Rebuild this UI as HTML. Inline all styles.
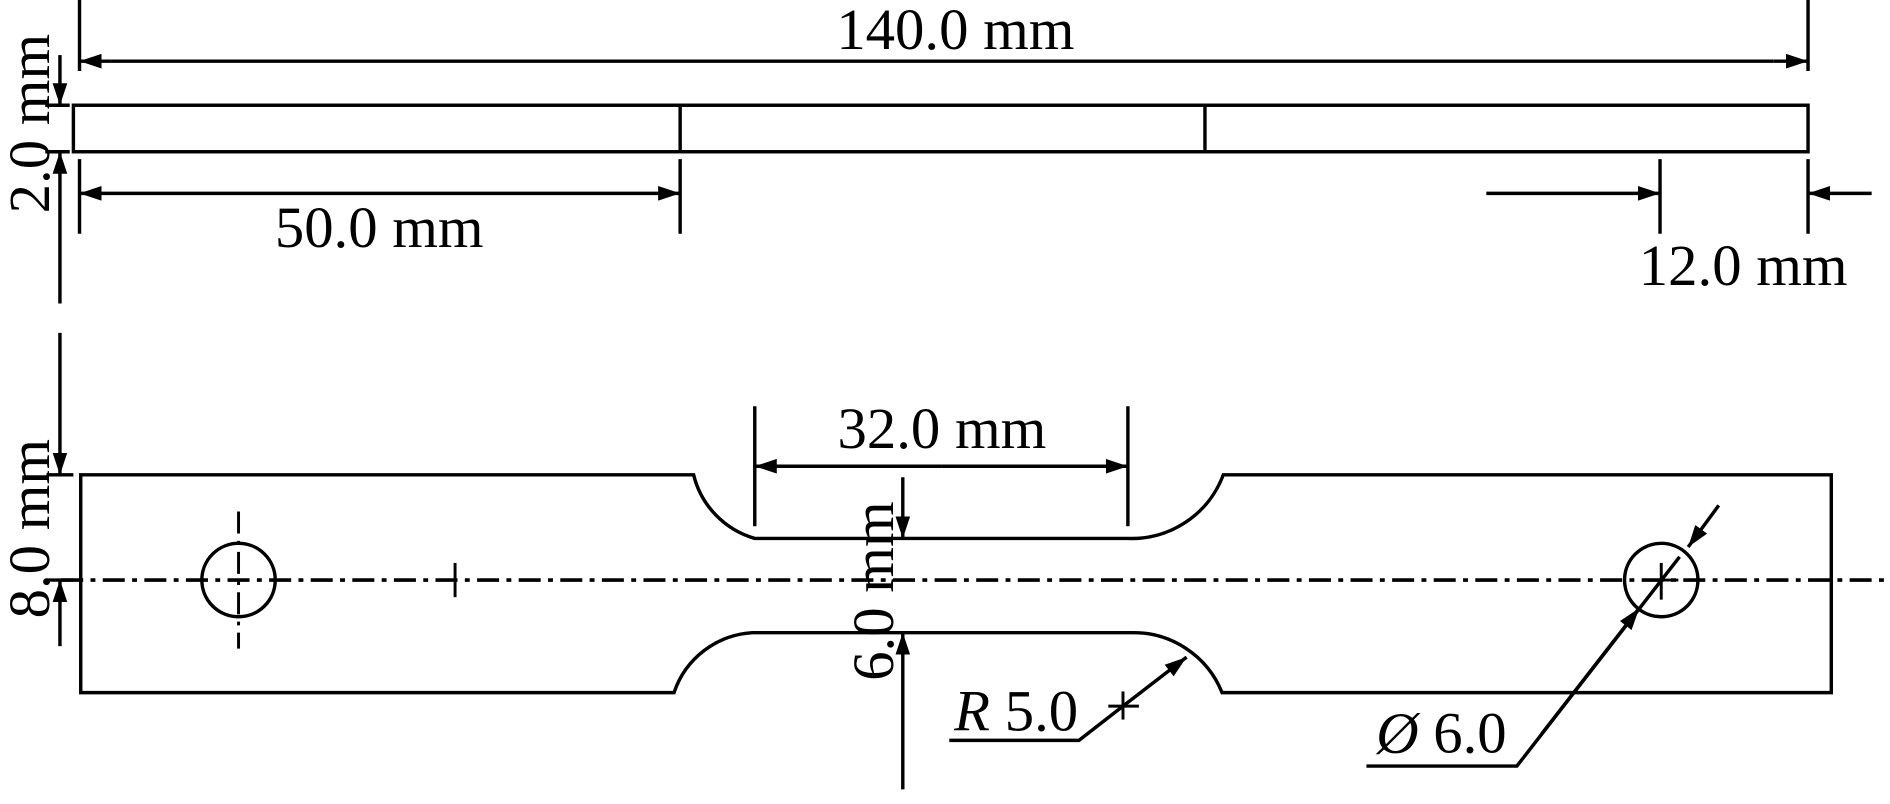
<!DOCTYPE html>
<html><head><meta charset="utf-8"><style>
html,body{margin:0;padding:0;background:#fff;}
svg{display:block;}
text{font-family:"Liberation Serif",serif;font-size:48px;fill:#000;}
</style></head><body>
<svg width="1890" height="804" viewBox="0 0 1545 657" preserveAspectRatio="none" xmlns="http://www.w3.org/2000/svg">
<defs>
<marker id="a" viewBox="0 0 18 12" refX="18" refY="6" markerWidth="18" markerHeight="12" markerUnits="userSpaceOnUse" orient="auto">
<path d="M0,0 L18,6 L0,12 Z" fill="#000"/></marker>
</defs>
<g stroke="#000" stroke-width="2.8" fill="none">
<!-- top view -->
<line x1="65" y1="0" x2="65" y2="58"/>
<line x1="1478" y1="0" x2="1478" y2="58"/>
<line x1="90" y1="50" x2="65" y2="50" marker-end="url(#a)"/>
<line x1="1450" y1="50" x2="1478" y2="50" marker-end="url(#a)"/>
<line x1="90" y1="50" x2="1450" y2="50"/>
<rect x="60" y="86" width="1418" height="38"/>
<line x1="556" y1="86" x2="556" y2="124"/>
<line x1="985" y1="86" x2="985" y2="124"/>
<!-- 2.0 -->
<line x1="49" y1="45" x2="49" y2="86" marker-end="url(#a)"/>
<line x1="49" y1="248" x2="49" y2="124" marker-end="url(#a)"/>
<line x1="37" y1="86" x2="57" y2="86"/>
<line x1="37" y1="124" x2="57" y2="124"/>
<!-- 50.0 -->
<line x1="65" y1="130" x2="65" y2="191"/>
<line x1="556" y1="130" x2="556" y2="191"/>
<line x1="300" y1="158" x2="65" y2="158" marker-end="url(#a)"/>
<line x1="300" y1="158" x2="556" y2="158" marker-end="url(#a)"/>
<!-- 12.0 -->
<line x1="1357" y1="130" x2="1357" y2="191"/>
<line x1="1478" y1="130" x2="1478" y2="191"/>
<line x1="1215" y1="158" x2="1357" y2="158" marker-end="url(#a)"/>
<line x1="1530" y1="158" x2="1478" y2="158" marker-end="url(#a)"/>
<!-- bottom specimen -->
<path d="M66,388 L567,388 A72 72 0 0 0 617,440 L922,440 A80 80 0 0 0 1000,388 L1497,388 L1497,566 L999,566 A78 78 0 0 0 925,517 L615,517 A72 72 0 0 0 551,566 L66,566 Z"/>
<line x1="50" y1="474" x2="1540" y2="474" stroke-width="3" stroke-dasharray="18 6 4 6"/>
<circle cx="195" cy="474" r="30"/>
<line x1="195" y1="418" x2="195" y2="530" stroke-width="2.4" stroke-dasharray="18 6 3 6"/>
<line x1="372" y1="460" x2="372" y2="488" stroke-width="2.4"/>
<circle cx="1358" cy="474" r="30"/>
<line x1="1358" y1="460" x2="1358" y2="490" stroke-width="2.4"/>
<line x1="1345" y1="474" x2="1372" y2="474" stroke-width="2.4"/>
<!-- 8.0 -->
<line x1="49" y1="272" x2="49" y2="388" marker-end="url(#a)"/>
<line x1="49" y1="528" x2="49" y2="474" marker-end="url(#a)"/>
<line x1="38" y1="388" x2="60" y2="388"/>
<line x1="38" y1="474" x2="60" y2="474"/>
<!-- 32.0 -->
<line x1="617" y1="332" x2="617" y2="430"/>
<line x1="922" y1="332" x2="922" y2="430"/>
<line x1="770" y1="381" x2="617" y2="381" marker-end="url(#a)"/>
<line x1="770" y1="381" x2="922" y2="381" marker-end="url(#a)"/>
<!-- 6.0 -->
<line x1="738" y1="390" x2="738" y2="440" marker-end="url(#a)"/>
<line x1="738" y1="645" x2="738" y2="517" marker-end="url(#a)"/>
<!-- R5.0 -->
<polyline points="776,605 882,605 918,577"/>
<line x1="918" y1="577" x2="970" y2="537" marker-end="url(#a)"/>
<line x1="918" y1="565" x2="918" y2="588" stroke-width="2.4"/>
<line x1="906" y1="577" x2="931" y2="577" stroke-width="2.4"/>
<!-- diameter -->
<polyline points="1117,626 1240,626 1373,455"/>
<line x1="1260" y1="600" x2="1340" y2="497" marker-end="url(#a)"/>
<line x1="1405" y1="413" x2="1380" y2="447" marker-end="url(#a)"/>
</g>
<text x="781" y="40" text-anchor="middle">140.0 mm</text>
<text x="310" y="202" text-anchor="middle">50.0 mm</text>
<text x="1425" y="233" text-anchor="middle">12.0 mm</text>
<text x="770" y="366" text-anchor="middle">32.0 mm</text>
<text transform="translate(40,101) rotate(-90)" text-anchor="middle">2.0 mm</text>
<text transform="translate(40,432) rotate(-90)" text-anchor="middle">8.0 mm</text>
<text transform="translate(730,483) rotate(-90)" text-anchor="middle">6.0 mm</text>
<text x="780" y="597"><tspan font-style="italic">R</tspan> 5.0</text>
<text x="1125" y="615"><tspan font-style="italic">Ø</tspan> 6.0</text>
</svg>
</body></html>
